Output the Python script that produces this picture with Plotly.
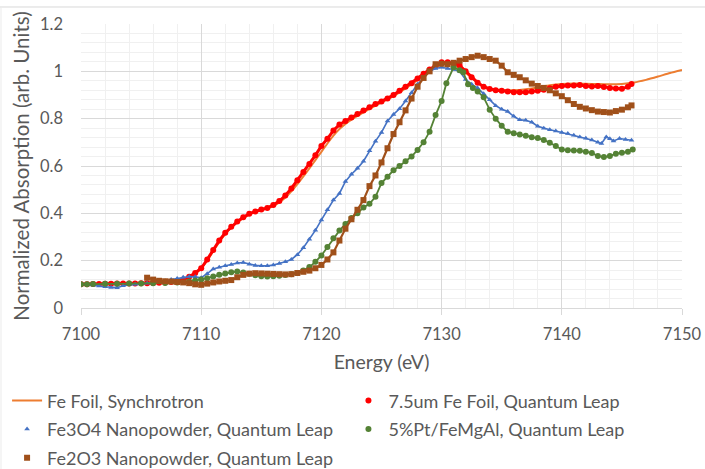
import plotly.graph_objects as go

# ---------------- data ----------------
fe_foil_sync_E = [7100, 7102, 7104, 7106, 7107, 7108, 7108.5, 7109, 7109.5, 7110, 7110.5, 7111, 7111.5,
                  7112, 7112.5, 7113, 7113.5, 7114, 7114.5, 7115, 7115.5, 7116, 7116.5, 7117, 7117.5,
                  7118, 7118.5, 7119, 7119.5, 7120, 7120.5, 7121, 7121.5, 7122, 7122.5, 7123, 7123.5,
                  7124, 7125, 7126, 7127, 7128, 7129, 7129.5, 7130, 7130.5, 7131, 7131.5, 7132, 7132.5,
                  7133, 7133.5, 7134, 7135, 7136, 7137, 7138, 7139, 7140, 7141, 7142, 7143, 7144, 7145,
                  7146, 7147, 7148, 7149, 7150]
fe_foil_sync_A = [0.100, 0.101, 0.103, 0.105, 0.107, 0.111, 0.117, 0.128, 0.145, 0.168, 0.200, 0.240, 0.278,
                  0.312, 0.340, 0.362, 0.380, 0.395, 0.406, 0.414, 0.421, 0.431, 0.446, 0.467, 0.493,
                  0.523, 0.556, 0.590, 0.625, 0.660, 0.695, 0.728, 0.756, 0.778, 0.796, 0.812, 0.827,
                  0.841, 0.868, 0.895, 0.928, 0.963, 1.000, 1.018, 1.030, 1.033, 1.028, 1.015, 0.995, 0.972,
                  0.952, 0.937, 0.928, 0.921, 0.920, 0.924, 0.932, 0.941, 0.947, 0.949, 0.948, 0.946, 0.945, 0.947,
                  0.953, 0.964, 0.978, 0.993, 1.006]

fe_foil_ql_E = [7100, 7100.5, 7101, 7101.5, 7102, 7102.5, 7103, 7103.5, 7104, 7104.5, 7105, 7105.5, 7106,
                7106.5, 7107, 7107.5, 7108, 7108.5, 7109, 7109.5, 7110, 7110.5, 7111, 7111.5, 7112, 7112.5,
                7113, 7113.5, 7114, 7114.5, 7115, 7115.5, 7116, 7116.5, 7117, 7117.5, 7118, 7118.5, 7119,
                7119.5, 7120, 7120.5, 7121, 7121.5, 7122, 7122.5, 7123, 7123.5, 7124, 7124.5, 7125, 7125.5,
                7126, 7126.5, 7127, 7127.5, 7128, 7128.5, 7129, 7129.5, 7130, 7130.5, 7131, 7131.5, 7132,
                7132.5, 7133, 7133.5, 7134, 7134.5, 7135, 7135.5, 7136, 7136.5, 7137, 7137.5, 7138, 7138.5,
                7139, 7139.5, 7140, 7140.5, 7141, 7141.5, 7142, 7142.5, 7143, 7143.5, 7144, 7144.5, 7145,
                7145.5, 7145.8]
fe_foil_ql_A = [0.100, 0.100, 0.101, 0.101, 0.102, 0.102, 0.103, 0.103, 0.104, 0.104, 0.105, 0.105, 0.106,
                0.107, 0.108, 0.110, 0.113, 0.120, 0.132, 0.148, 0.168, 0.205, 0.245, 0.285, 0.318, 0.343,
                0.365, 0.383, 0.398, 0.408, 0.416, 0.423, 0.435, 0.452, 0.475, 0.505, 0.540, 0.575, 0.608,
                0.645, 0.685, 0.715, 0.750, 0.775, 0.790, 0.805, 0.820, 0.835, 0.848, 0.862, 0.873, 0.885,
                0.900, 0.918, 0.935, 0.950, 0.970, 0.990, 1.008, 1.025, 1.038, 1.038, 1.035, 1.025, 1.000,
                0.975, 0.952, 0.935, 0.925, 0.920, 0.918, 0.915, 0.912, 0.912, 0.912, 0.915, 0.918, 0.922,
                0.928, 0.935, 0.938, 0.940, 0.940, 0.942, 0.938, 0.936, 0.938, 0.934, 0.930, 0.927, 0.926,
                0.935, 0.947]

fe3o4_E = [7100.5, 7101, 7101.5, 7102, 7102.5, 7103, 7103.5, 7104, 7104.5, 7105, 7105.5, 7106, 7106.5,
           7107, 7107.5, 7108, 7108.5, 7109, 7109.5, 7110, 7110.5, 7111, 7111.5, 7112, 7112.5, 7113, 7113.5,
           7114, 7114.5, 7115, 7115.5, 7116, 7116.5, 7117, 7117.5, 7118, 7118.5, 7119, 7119.5, 7120, 7120.5,
           7121, 7121.5, 7122, 7122.5, 7123, 7123.5, 7124, 7124.5, 7125, 7125.5, 7126, 7126.5, 7127, 7127.5,
           7128, 7128.5, 7129, 7129.5, 7130, 7130.5, 7131, 7131.5, 7132, 7132.5, 7133, 7133.5, 7134, 7134.5,
           7135, 7135.5, 7136, 7136.5, 7137, 7137.5, 7138, 7138.5, 7139, 7139.5, 7140, 7140.5, 7141, 7141.5,
           7142, 7142.5, 7143, 7143.3, 7143.7, 7144, 7144.3, 7144.8, 7145.3, 7145.8]
fe3o4_A = [0.098, 0.097, 0.093, 0.090, 0.087, 0.086, 0.094, 0.098, 0.100, 0.102, 0.105, 0.107, 0.110,
           0.115, 0.120, 0.125, 0.130, 0.133, 0.132, 0.128, 0.145, 0.165, 0.172, 0.178, 0.184, 0.190, 0.192,
           0.185, 0.180, 0.178, 0.178, 0.182, 0.188, 0.195, 0.205, 0.225, 0.255, 0.290, 0.328, 0.372, 0.415,
           0.456, 0.484, 0.535, 0.565, 0.590, 0.620, 0.664, 0.705, 0.742, 0.790, 0.818, 0.842, 0.875, 0.910,
           0.945, 0.972, 1.000, 1.012, 1.017, 1.012, 1.008, 1.000, 0.965, 0.945, 0.930, 0.905, 0.880, 0.855,
           0.840, 0.830, 0.810, 0.795, 0.793, 0.785, 0.768, 0.760, 0.753, 0.748, 0.742, 0.737, 0.730, 0.723,
           0.717, 0.710, 0.700, 0.695, 0.723, 0.715, 0.706, 0.716, 0.712, 0.709]

ptfemgal_E = [7100, 7100.5, 7101, 7102, 7103, 7104, 7105, 7106, 7107, 7108, 7109, 7109.5, 7110, 7110.5,
              7111, 7111.5, 7112, 7112.5, 7113, 7113.5, 7114, 7114.5, 7115, 7115.5, 7116, 7116.5, 7117,
              7117.5, 7118, 7118.5, 7119, 7119.5, 7120, 7120.5, 7121, 7121.5, 7122, 7122.5, 7123, 7123.5,
              7124, 7124.5, 7125, 7125.5, 7126, 7126.5, 7127, 7127.5, 7128, 7128.5, 7129, 7129.5, 7130,
              7130.4, 7131, 7131.5, 7131.8, 7132.2, 7132.6, 7133, 7133.5, 7134, 7134.5, 7135, 7135.5, 7136,
              7136.5, 7137, 7137.5, 7138, 7138.5, 7139, 7139.5, 7140, 7140.5, 7141, 7141.5, 7142, 7142.5,
              7143, 7143.5, 7144, 7144.5, 7145, 7145.5, 7145.9]
ptfemgal_A = [0.100, 0.100, 0.101, 0.102, 0.102, 0.103, 0.104, 0.105, 0.106, 0.108, 0.112, 0.116, 0.120, 0.126,
              0.133, 0.140, 0.146, 0.151, 0.154, 0.150, 0.145, 0.138, 0.134, 0.133, 0.134, 0.136, 0.139,
              0.143, 0.148, 0.158, 0.173, 0.195, 0.222, 0.258, 0.295, 0.327, 0.355, 0.380, 0.400, 0.425,
              0.440, 0.470, 0.528, 0.555, 0.582, 0.600, 0.620, 0.640, 0.668, 0.700, 0.745, 0.815, 0.875,
              0.950, 1.017, 1.005, 0.996, 0.945, 0.930, 0.915, 0.890, 0.838, 0.800, 0.770, 0.745, 0.738,
              0.733, 0.728, 0.722, 0.718, 0.710, 0.698, 0.684, 0.670, 0.667, 0.666, 0.664, 0.660, 0.655,
              0.642, 0.638, 0.642, 0.652, 0.656, 0.660, 0.670]

fe2o3_E = [7105.5, 7106, 7106.5, 7107, 7107.5, 7108, 7108.5, 7109, 7109.5, 7110, 7110.5, 7111, 7111.5,
           7112, 7112.5, 7113, 7113.5, 7114, 7114.5, 7115, 7115.5, 7116, 7116.5, 7117, 7117.5, 7118, 7118.5,
           7119, 7119.5, 7120, 7120.5, 7121, 7121.5, 7122, 7122.5, 7123, 7123.5, 7124, 7124.5, 7125, 7125.5,
           7126, 7126.5, 7127, 7127.5, 7128, 7128.5, 7129, 7129.5, 7130, 7130.5, 7131, 7131.5, 7132, 7132.5,
           7133, 7133.5, 7134, 7134.5, 7135, 7135.5, 7136, 7136.5, 7137, 7137.5, 7138, 7138.5, 7139, 7139.5,
           7140, 7140.5, 7141, 7141.5, 7142, 7142.5, 7143, 7143.5, 7144, 7144.5, 7145, 7145.5, 7145.8]
fe2o3_A = [0.128, 0.120, 0.115, 0.113, 0.112, 0.110, 0.108, 0.105, 0.100, 0.098, 0.103, 0.108, 0.112,
           0.115, 0.118, 0.130, 0.140, 0.145, 0.147, 0.146, 0.145, 0.144, 0.143, 0.142, 0.143, 0.148, 0.153,
           0.158, 0.168, 0.182, 0.205, 0.235, 0.285, 0.335, 0.375, 0.415, 0.456, 0.515, 0.560, 0.615, 0.675,
           0.735, 0.785, 0.835, 0.885, 0.935, 0.972, 1.000, 1.030, 1.032, 1.030, 1.036, 1.045, 1.052, 1.060,
           1.066, 1.060, 1.052, 1.045, 1.024, 0.996, 0.985, 0.975, 0.962, 0.948, 0.938, 0.930, 0.920, 0.907,
           0.895, 0.878, 0.862, 0.850, 0.843, 0.836, 0.830, 0.828, 0.826, 0.832, 0.838, 0.848, 0.856]

series_names = ["Fe Foil, Synchrotron", "7.5um Fe Foil, Quantum Leap", "Fe3O4 Nanopowder, Quantum Leap",
                "5%Pt/FeMgAl, Quantum Leap", "Fe2O3 Nanopowder, Quantum Leap"]

x_ticks = [7100, 7110, 7120, 7130, 7140, 7150]
y_ticks = [0, 0.2, 0.4, 0.6, 0.8, 1, 1.2]
y_tick_text = ["0", "0.2", "0.4", "0.6", "0.8", "1", "1.2"]

# ---------------- styling ----------------
FONT = "Lato"
TXT = "#595959"
C_ORANGE = "#ED7D31"
C_RED = "#FF0000"
C_BLUE = "#4472C4"
C_GREEN = "#548235"
C_BROWN = "#A0501A"
LEG_FONT = 18

fig = go.Figure()

fig.add_trace(go.Scatter(x=fe_foil_sync_E, y=fe_foil_sync_A, mode="lines", name=series_names[0],
                         line=dict(color=C_ORANGE, width=2, shape="spline", smoothing=0.6),
                         legend="legend", legendgroup="g0"))


def add_marker_series(E, A, name, color, symbol, size, lw, legend, grp):
    fig.add_trace(go.Scatter(x=E, y=A, mode="lines", line=dict(color=color, width=lw),
                             showlegend=False, hoverinfo="skip", legend=legend, legendgroup=grp))
    fig.add_trace(go.Scatter(x=E, y=A, mode="markers", name=name,
                             marker=dict(color=color, symbol=symbol, size=size, line=dict(width=0)),
                             legend=legend, legendgroup=grp))


add_marker_series(fe_foil_ql_E, fe_foil_ql_A, series_names[1], C_RED, "circle", 6, 3, "legend2", "g1")
add_marker_series(fe3o4_E, fe3o4_A, series_names[2], C_BLUE, "triangle-up", 5, 1.6, "legend", "g2")
add_marker_series(ptfemgal_E, ptfemgal_A, series_names[3], C_GREEN, "circle", 6, 1.8, "legend2", "g3")
add_marker_series(fe2o3_E, fe2o3_A, series_names[4], C_BROWN, "square", 6, 2.2, "legend", "g4")

fig.update_layout(
    width=705, height=469,
    margin=dict(l=81, r=23, t=24, b=161, autoexpand=False),
    paper_bgcolor="white", plot_bgcolor="white",
    font=dict(family=FONT, color=TXT, size=16),
    xaxis=dict(range=[7100, 7150], tickvals=x_ticks, ticktext=[str(v) for v in x_ticks],
               showgrid=True, gridcolor="#D9D9D9", gridwidth=1,
               minor=dict(dtick=2, showgrid=True, gridcolor="#F0F0F0", gridwidth=1),
               showline=True, linecolor="#D9D9D9", linewidth=1,
               ticks="outside", ticklen=6, tickcolor="#D9D9D9", ticklabelstandoff=5,
               tickfont=dict(family=FONT, size=16.5, color=TXT), automargin=False,
               title=dict(text="Energy (eV)", font=dict(family=FONT, size=19.5, color=TXT), standoff=12),
               zeroline=False),
    yaxis=dict(range=[0, 1.2], tickvals=y_ticks, ticktext=y_tick_text,
               showgrid=True, gridcolor="#D9D9D9", gridwidth=1,
               minor=dict(dtick=0.04, showgrid=True, gridcolor="#F0F0F0", gridwidth=1),
               showline=False, ticks="", ticklabelstandoff=17, automargin=False,
               tickfont=dict(family=FONT, size=16.5, color=TXT),
               title=dict(text="Normalized Absorption (arb. Units)",
                          font=dict(family=FONT, size=20.5, color=TXT), standoff=4),
               zeroline=False),
    legend=dict(x=-0.123, xanchor="left", y=-0.2616, yanchor="top", orientation="v",
                font=dict(family=FONT, size=LEG_FONT, color=TXT), bgcolor="rgba(0,0,0,0)",
                tracegroupgap=2.2, itemwidth=30, traceorder="grouped"),
    legend2=dict(x=0.445, xanchor="left", y=-0.2616, yanchor="top", orientation="v",
                 font=dict(family=FONT, size=LEG_FONT, color=TXT), bgcolor="rgba(0,0,0,0)",
                 tracegroupgap=2.2, itemwidth=30, traceorder="grouped"),
    showlegend=True,
    shapes=[
        dict(type="line", xref="paper", yref="paper", x0=-0.135, x1=1.04, y0=1.0599, y1=1.0599,
             line=dict(color="#D9D9D9", width=1)),
        dict(type="line", xref="paper", yref="paper", x0=-0.1331, x1=-0.1331, y0=1.0599, y1=-0.58,
             line=dict(color="#EBEBEB", width=1)),
    ],
)

# place the figure flush with the window's top-left corner (no default page margin), no modebar
fig.write_html("out.html", config={"displayModeBar": False},
               post_script="document.body.style.margin='0px';document.body.style.overflow='hidden';")
